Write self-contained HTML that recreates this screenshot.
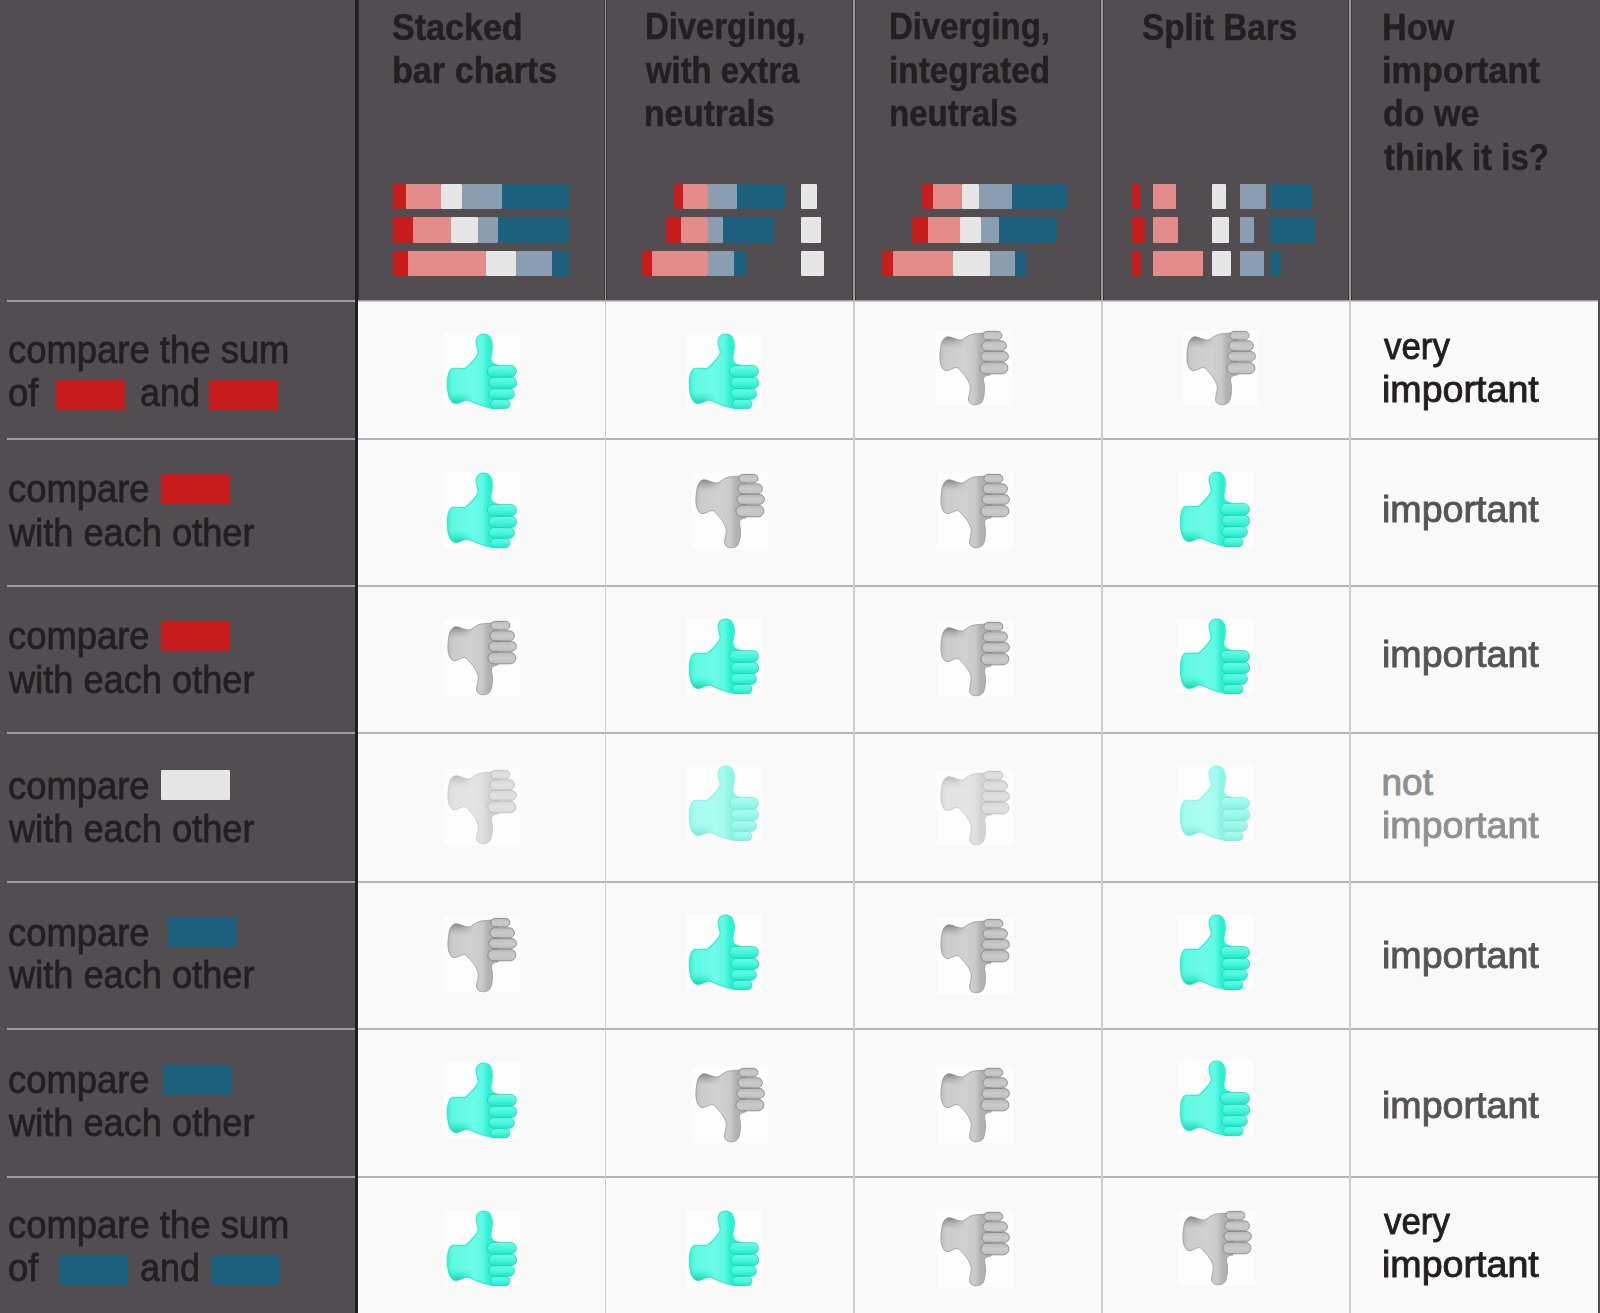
<!DOCTYPE html>
<html><head><meta charset="utf-8">
<style>
html,body{margin:0;padding:0;}
body{width:1600px;height:1313px;position:relative;overflow:hidden;background:#f9f9f9;font-family:"Liberation Sans",sans-serif;}
.a{position:absolute;}
.t{position:absolute;white-space:nowrap;transform-origin:0 0;line-height:1;}
.b{position:absolute;border-radius:1px;}
</style></head><body>
<svg width="0" height="0" style="position:absolute">
<defs>
<clipPath id="cp"><path d="M38.8 1.2 C42 1.2 44.5 2.2 46 4.2 C48 7 48.5 11 48.2 15 C48 19 46.8 22 46.7 25 C46.7 28 48.5 30.5 51.5 31.5 L54 32.5 L54 76 L51 75.8 C45 75 38 73 32 70.5 C28 68.8 25 67 22.8 67 C19 67.5 15.5 70.4 12.2 70.4 C9 70.4 6 67 4.6 62 C3.5 57 3.2 50 3.7 45.3 C4.2 40.5 6 36 9.1 35.4 C13 34.8 17.5 36 21.3 35.4 C24 33.5 27.5 30 30 27 C33 23.5 34.6 21.5 34.3 19 C34 16 32.2 12.5 32.1 9 C32 5 35 1.2 38.8 1.2 Z"/></clipPath>
<clipPath id="cpd"><path d="M38.8 1.2 C42 1.2 44.5 2.2 46 4.2 C47.8 7 48.6 13 48.5 18.5 C48.4 22 47.4 24.5 47.5 27 C47.7 29 50 30.5 52.2 30.8 L54 31 L54 74.6 L46.9 72.9 C42 72.5 38.5 72.2 35.9 71.7 C31 70.5 28.5 66.8 25.5 66 C21 65.3 15.5 69.5 11.9 69.3 C8.5 69 6 65.5 5.2 61.2 C4.2 56 3.6 50 4 46 C4.4 41.5 5.8 37 9.4 35.3 C13 34.8 16.5 38.2 19.9 38.5 C22.5 38.5 24.5 35 27 32.5 C29.5 30 32 26 33.3 22.7 C34.5 20 34.4 17.5 34 15 C33.4 12 32.4 8.5 32.6 6 C33 2.8 35.8 1.2 38.8 1.2 Z"/></clipPath>
<linearGradient id="mh" x1="0" y1="0" x2="30" y2="0" gradientUnits="userSpaceOnUse"><stop offset="0.6" stop-color="#fff"/><stop offset="1" stop-color="#000"/></linearGradient>
<mask id="mk"><rect x="0" y="0" width="76" height="76" fill="url(#mh)"/></mask>
<linearGradient id="gu" x1="3" y1="0" x2="54" y2="0" gradientUnits="userSpaceOnUse"><stop offset="0" stop-color="#34efd0"/><stop offset="0.1" stop-color="#60f9e2"/><stop offset="0.5" stop-color="#6cfce8"/><stop offset="0.7" stop-color="#5ef9e3"/><stop offset="0.8" stop-color="#2ff1d1"/></linearGradient>
<linearGradient id="cu" x1="0" y1="59" x2="0" y2="71" gradientUnits="userSpaceOnUse"><stop offset="0" stop-color="#1fe3c2" stop-opacity="0"/><stop offset="1" stop-color="#14d2b0" stop-opacity="1"/></linearGradient>
<linearGradient id="fu" x1="0" y1="0" x2="0" y2="1"><stop offset="0" stop-color="#6afbe6"/><stop offset="0.55" stop-color="#46f5db"/><stop offset="1" stop-color="#1de8c6"/></linearGradient>
<linearGradient id="gd" x1="3" y1="0" x2="54" y2="0" gradientUnits="userSpaceOnUse"><stop offset="0" stop-color="#bababa"/><stop offset="0.12" stop-color="#cccccc"/><stop offset="0.5" stop-color="#d1d1d1"/><stop offset="0.7" stop-color="#c8c8c8"/><stop offset="0.8" stop-color="#b2b2b2"/></linearGradient>
<linearGradient id="cd" x1="0" y1="58" x2="0" y2="70" gradientUnits="userSpaceOnUse"><stop offset="0" stop-color="#a0a0a0" stop-opacity="0"/><stop offset="1" stop-color="#808080" stop-opacity="1"/></linearGradient>
<linearGradient id="fd" x1="0" y1="0" x2="0" y2="1"><stop offset="0" stop-color="#c0c0c0"/><stop offset="0.5" stop-color="#cacaca"/><stop offset="1" stop-color="#bababa"/></linearGradient>


</defs></svg>

<div class="a" style="left:0;top:0;width:1600px;height:300px;background:#524d51"></div>
<div class="a" style="left:0;top:300px;width:1600px;height:2px;background:linear-gradient(#8e8f92,#dcdcdc)"></div>
<div class="a" style="left:0;top:0;width:355px;height:1313px;background:#524d51"></div>
<div class="a" style="left:1598px;top:0;width:2px;height:1313px;background:#524d51"></div>
<div class="a" style="left:7px;top:300px;width:348px;height:2px;background:#9c9ea1"></div>
<div class="a" style="left:7px;top:438px;width:348px;height:2px;background:#9c9ea1"></div>
<div class="a" style="left:7px;top:585px;width:348px;height:2px;background:#9c9ea1"></div>
<div class="a" style="left:7px;top:732px;width:348px;height:2px;background:#9c9ea1"></div>
<div class="a" style="left:7px;top:881px;width:348px;height:2px;background:#9c9ea1"></div>
<div class="a" style="left:7px;top:1028px;width:348px;height:2px;background:#9c9ea1"></div>
<div class="a" style="left:7px;top:1176px;width:348px;height:2px;background:#9c9ea1"></div>
<div class="a" style="left:358px;top:438px;width:1240px;height:2px;background:#b3b4b6"></div>
<div class="a" style="left:358px;top:585px;width:1240px;height:2px;background:#b3b4b6"></div>
<div class="a" style="left:358px;top:732px;width:1240px;height:2px;background:#b3b4b6"></div>
<div class="a" style="left:358px;top:881px;width:1240px;height:2px;background:#b3b4b6"></div>
<div class="a" style="left:358px;top:1028px;width:1240px;height:2px;background:#b3b4b6"></div>
<div class="a" style="left:358px;top:1176px;width:1240px;height:2px;background:#b3b4b6"></div>
<div class="a" style="left:604px;top:0;width:3px;height:300px;background:#3a3335"></div>
<div class="a" style="left:605px;top:0;width:1px;height:300px;background:#9a9ca0"></div>
<div class="a" style="left:605px;top:302px;width:1px;height:1011px;background:#cdcece"></div>
<div class="a" style="left:852px;top:0;width:4px;height:300px;background:#3a3335"></div>
<div class="a" style="left:853px;top:0;width:2px;height:300px;background:#9a9ca0"></div>
<div class="a" style="left:853px;top:302px;width:2px;height:1011px;background:#cdcece"></div>
<div class="a" style="left:1100px;top:0;width:4px;height:300px;background:#3a3335"></div>
<div class="a" style="left:1101px;top:0;width:2px;height:300px;background:#9a9ca0"></div>
<div class="a" style="left:1101px;top:302px;width:2px;height:1011px;background:#cdcece"></div>
<div class="a" style="left:1348px;top:0;width:4px;height:300px;background:#3a3335"></div>
<div class="a" style="left:1349px;top:0;width:2px;height:300px;background:#9a9ca0"></div>
<div class="a" style="left:1349px;top:302px;width:2px;height:1011px;background:#cdcece"></div>
<div class="a" style="left:355px;top:0;width:3px;height:1313px;background:#211e1f"></div>
<div class="a" style="left:358px;top:0;width:1px;height:300px;background:#2e2a2c"></div>
<div class="b" style="left:393.00px;top:183.80px;width:13.00px;height:25.20px;background:#c71e1d"></div>
<div class="b" style="left:406.00px;top:183.80px;width:35.00px;height:25.20px;background:#e48c8a"></div>
<div class="b" style="left:441.00px;top:183.80px;width:21.00px;height:25.20px;background:#e6e6e6"></div>
<div class="b" style="left:462.00px;top:183.80px;width:40.00px;height:25.20px;background:#8a9db1"></div>
<div class="b" style="left:502.00px;top:183.80px;width:67.00px;height:25.20px;background:#1d617e"></div>
<div class="b" style="left:393.00px;top:217.30px;width:20.00px;height:25.50px;background:#c71e1d"></div>
<div class="b" style="left:413.00px;top:217.30px;width:38.00px;height:25.50px;background:#e48c8a"></div>
<div class="b" style="left:451.00px;top:217.30px;width:27.00px;height:25.50px;background:#e6e6e6"></div>
<div class="b" style="left:478.00px;top:217.30px;width:20.00px;height:25.50px;background:#8a9db1"></div>
<div class="b" style="left:498.00px;top:217.30px;width:71.00px;height:25.50px;background:#1d617e"></div>
<div class="b" style="left:393.00px;top:250.50px;width:15.00px;height:25.50px;background:#c71e1d"></div>
<div class="b" style="left:408.00px;top:250.50px;width:78.00px;height:25.50px;background:#e48c8a"></div>
<div class="b" style="left:486.00px;top:250.50px;width:30.00px;height:25.50px;background:#e6e6e6"></div>
<div class="b" style="left:516.00px;top:250.50px;width:36.00px;height:25.50px;background:#8a9db1"></div>
<div class="b" style="left:552.00px;top:250.50px;width:17.00px;height:25.50px;background:#1d617e"></div>
<div class="b" style="left:674.00px;top:183.80px;width:9.00px;height:25.20px;background:#c71e1d"></div>
<div class="b" style="left:683.00px;top:183.80px;width:25.00px;height:25.20px;background:#e48c8a"></div>
<div class="b" style="left:708.00px;top:183.80px;width:29.00px;height:25.20px;background:#8a9db1"></div>
<div class="b" style="left:737.00px;top:183.80px;width:48.00px;height:25.20px;background:#1d617e"></div>
<div class="b" style="left:801.00px;top:183.80px;width:16.00px;height:25.20px;background:#e6e6e6"></div>
<div class="b" style="left:666.30px;top:217.30px;width:14.70px;height:25.50px;background:#c71e1d"></div>
<div class="b" style="left:681.00px;top:217.30px;width:27.00px;height:25.50px;background:#e48c8a"></div>
<div class="b" style="left:708.00px;top:217.30px;width:15.00px;height:25.50px;background:#8a9db1"></div>
<div class="b" style="left:723.00px;top:217.30px;width:50.80px;height:25.50px;background:#1d617e"></div>
<div class="b" style="left:801.00px;top:217.30px;width:20.00px;height:25.50px;background:#e6e6e6"></div>
<div class="b" style="left:642.00px;top:250.50px;width:10.00px;height:25.50px;background:#c71e1d"></div>
<div class="b" style="left:652.00px;top:250.50px;width:56.00px;height:25.50px;background:#e48c8a"></div>
<div class="b" style="left:708.00px;top:250.50px;width:26.40px;height:25.50px;background:#8a9db1"></div>
<div class="b" style="left:734.40px;top:250.50px;width:11.90px;height:25.50px;background:#1d617e"></div>
<div class="b" style="left:801.00px;top:250.50px;width:22.80px;height:25.50px;background:#e6e6e6"></div>
<div class="b" style="left:922.00px;top:183.80px;width:11.00px;height:25.20px;background:#c71e1d"></div>
<div class="b" style="left:933.00px;top:183.80px;width:29.00px;height:25.20px;background:#e48c8a"></div>
<div class="b" style="left:962.00px;top:183.80px;width:17.00px;height:25.20px;background:#e6e6e6"></div>
<div class="b" style="left:979.00px;top:183.80px;width:33.00px;height:25.20px;background:#8a9db1"></div>
<div class="b" style="left:1012.00px;top:183.80px;width:55.00px;height:25.20px;background:#1d617e"></div>
<div class="b" style="left:912.00px;top:217.30px;width:16.00px;height:25.50px;background:#c71e1d"></div>
<div class="b" style="left:928.00px;top:217.30px;width:32.00px;height:25.50px;background:#e48c8a"></div>
<div class="b" style="left:960.00px;top:217.30px;width:21.30px;height:25.50px;background:#e6e6e6"></div>
<div class="b" style="left:981.30px;top:217.30px;width:17.50px;height:25.50px;background:#8a9db1"></div>
<div class="b" style="left:998.80px;top:217.30px;width:58.20px;height:25.50px;background:#1d617e"></div>
<div class="b" style="left:882.00px;top:250.50px;width:11.00px;height:25.50px;background:#c71e1d"></div>
<div class="b" style="left:893.00px;top:250.50px;width:60.00px;height:25.50px;background:#e48c8a"></div>
<div class="b" style="left:953.00px;top:250.50px;width:37.00px;height:25.50px;background:#e6e6e6"></div>
<div class="b" style="left:990.00px;top:250.50px;width:25.00px;height:25.50px;background:#8a9db1"></div>
<div class="b" style="left:1015.00px;top:250.50px;width:11.30px;height:25.50px;background:#1d617e"></div>
<div class="b" style="left:1131.60px;top:183.80px;width:8.40px;height:25.20px;background:#c71e1d"></div>
<div class="b" style="left:1153.00px;top:183.80px;width:23.00px;height:25.20px;background:#e48c8a"></div>
<div class="b" style="left:1212.00px;top:183.80px;width:14.00px;height:25.20px;background:#e6e6e6"></div>
<div class="b" style="left:1240.00px;top:183.80px;width:26.00px;height:25.20px;background:#8a9db1"></div>
<div class="b" style="left:1270.00px;top:183.80px;width:42.00px;height:25.20px;background:#1d617e"></div>
<div class="b" style="left:1131.60px;top:217.30px;width:13.40px;height:25.50px;background:#c71e1d"></div>
<div class="b" style="left:1153.00px;top:217.30px;width:25.00px;height:25.50px;background:#e48c8a"></div>
<div class="b" style="left:1212.00px;top:217.30px;width:17.00px;height:25.50px;background:#e6e6e6"></div>
<div class="b" style="left:1240.00px;top:217.30px;width:14.00px;height:25.50px;background:#8a9db1"></div>
<div class="b" style="left:1270.00px;top:217.30px;width:44.60px;height:25.50px;background:#1d617e"></div>
<div class="b" style="left:1131.60px;top:250.50px;width:9.40px;height:25.50px;background:#c71e1d"></div>
<div class="b" style="left:1153.00px;top:250.50px;width:50.00px;height:25.50px;background:#e48c8a"></div>
<div class="b" style="left:1212.00px;top:250.50px;width:19.00px;height:25.50px;background:#e6e6e6"></div>
<div class="b" style="left:1240.00px;top:250.50px;width:23.80px;height:25.50px;background:#8a9db1"></div>
<div class="b" style="left:1270.00px;top:250.50px;width:11.00px;height:25.50px;background:#1d617e"></div>
<div class="b" style="left:56.30px;top:380.00px;width:68.40px;height:29.80px;background:#c71e1d"></div>
<div class="b" style="left:209.00px;top:380.00px;width:68.90px;height:29.80px;background:#c71e1d"></div>
<div class="b" style="left:161.00px;top:474.00px;width:69.30px;height:29.70px;background:#c71e1d"></div>
<div class="b" style="left:161.00px;top:621.00px;width:69.30px;height:30.00px;background:#c71e1d"></div>
<div class="b" style="left:161.00px;top:770.00px;width:69.30px;height:30.00px;background:#e6e6e6"></div>
<div class="b" style="left:167.80px;top:917.00px;width:69.40px;height:30.00px;background:#1d617e"></div>
<div class="b" style="left:163.00px;top:1065.00px;width:69.00px;height:30.00px;background:#1d617e"></div>
<div class="b" style="left:59.00px;top:1255.00px;width:69.00px;height:29.80px;background:#1d617e"></div>
<div class="b" style="left:211.00px;top:1255.00px;width:69.30px;height:29.80px;background:#1d617e"></div>
<div class="t" style="left:392.08px;top:9.10px;font-size:37px;font-weight:bold;color:#231f20;-webkit-text-stroke:0.5px #231f20;transform:scaleX(0.9209)">Stacked</div>
<div class="t" style="left:391.90px;top:51.60px;font-size:37px;font-weight:bold;color:#231f20;-webkit-text-stroke:0.5px #231f20;transform:scaleX(0.9233)">bar charts</div>
<div class="t" style="left:645.03px;top:8.40px;font-size:37px;font-weight:bold;color:#231f20;-webkit-text-stroke:0.5px #231f20;transform:scaleX(0.8864)">Diverging,</div>
<div class="t" style="left:645.70px;top:51.60px;font-size:37px;font-weight:bold;color:#231f20;-webkit-text-stroke:0.5px #231f20;transform:scaleX(0.8868)">with extra</div>
<div class="t" style="left:644.19px;top:95.00px;font-size:37px;font-weight:bold;color:#231f20;-webkit-text-stroke:0.5px #231f20;transform:scaleX(0.9071)">neutrals</div>
<div class="t" style="left:889.42px;top:8.40px;font-size:37px;font-weight:bold;color:#231f20;-webkit-text-stroke:0.5px #231f20;transform:scaleX(0.8898)">Diverging,</div>
<div class="t" style="left:889.20px;top:51.60px;font-size:37px;font-weight:bold;color:#231f20;-webkit-text-stroke:0.5px #231f20;transform:scaleX(0.9011)">integrated</div>
<div class="t" style="left:889.21px;top:95.00px;font-size:37px;font-weight:bold;color:#231f20;-webkit-text-stroke:0.5px #231f20;transform:scaleX(0.8936)">neutrals</div>
<div class="t" style="left:1141.50px;top:8.90px;font-size:37px;font-weight:bold;color:#231f20;-webkit-text-stroke:0.5px #231f20;transform:scaleX(0.8982)">Split Bars</div>
<div class="t" style="left:1381.85px;top:9.00px;font-size:37px;font-weight:bold;color:#231f20;-webkit-text-stroke:0.5px #231f20;transform:scaleX(0.9260)">How</div>
<div class="t" style="left:1381.85px;top:51.50px;font-size:37px;font-weight:bold;color:#231f20;-webkit-text-stroke:0.5px #231f20;transform:scaleX(0.9249)">important</div>
<div class="t" style="left:1382.78px;top:94.60px;font-size:37px;font-weight:bold;color:#231f20;-webkit-text-stroke:0.5px #231f20;transform:scaleX(0.9184)">do we</div>
<div class="t" style="left:1383.70px;top:138.50px;font-size:37px;font-weight:bold;color:#231f20;-webkit-text-stroke:0.5px #231f20;transform:scaleX(0.8913)">think it is?</div>
<div class="t" style="left:7.67px;top:329.50px;font-size:39px;font-weight:normal;color:#231f20;-webkit-text-stroke:0.8px #231f20;transform:scaleX(0.9342)">compare the sum</div>
<div class="t" style="left:7.67px;top:372.60px;font-size:39px;font-weight:normal;color:#231f20;-webkit-text-stroke:0.8px #231f20;transform:scaleX(0.9320)">of</div>
<div class="t" style="left:139.68px;top:372.60px;font-size:39px;font-weight:normal;color:#231f20;-webkit-text-stroke:0.8px #231f20;transform:scaleX(0.9226)">and</div>
<div class="t" style="left:8.07px;top:469.20px;font-size:39px;font-weight:normal;color:#231f20;-webkit-text-stroke:0.8px #231f20;transform:scaleX(0.9333)">compare</div>
<div class="t" style="left:9.00px;top:513.25px;font-size:39px;font-weight:normal;color:#231f20;-webkit-text-stroke:0.8px #231f20;transform:scaleX(0.9283)">with each other</div>
<div class="t" style="left:8.07px;top:616.40px;font-size:39px;font-weight:normal;color:#231f20;-webkit-text-stroke:0.8px #231f20;transform:scaleX(0.9333)">compare</div>
<div class="t" style="left:9.00px;top:659.60px;font-size:39px;font-weight:normal;color:#231f20;-webkit-text-stroke:0.8px #231f20;transform:scaleX(0.9283)">with each other</div>
<div class="t" style="left:8.07px;top:766.00px;font-size:39px;font-weight:normal;color:#231f20;-webkit-text-stroke:0.8px #231f20;transform:scaleX(0.9333)">compare</div>
<div class="t" style="left:9.00px;top:808.60px;font-size:39px;font-weight:normal;color:#231f20;-webkit-text-stroke:0.8px #231f20;transform:scaleX(0.9283)">with each other</div>
<div class="t" style="left:8.07px;top:912.60px;font-size:39px;font-weight:normal;color:#231f20;-webkit-text-stroke:0.8px #231f20;transform:scaleX(0.9333)">compare</div>
<div class="t" style="left:9.00px;top:955.10px;font-size:39px;font-weight:normal;color:#231f20;-webkit-text-stroke:0.8px #231f20;transform:scaleX(0.9283)">with each other</div>
<div class="t" style="left:8.07px;top:1060.00px;font-size:39px;font-weight:normal;color:#231f20;-webkit-text-stroke:0.8px #231f20;transform:scaleX(0.9333)">compare</div>
<div class="t" style="left:9.00px;top:1103.25px;font-size:39px;font-weight:normal;color:#231f20;-webkit-text-stroke:0.8px #231f20;transform:scaleX(0.9283)">with each other</div>
<div class="t" style="left:7.67px;top:1204.50px;font-size:39px;font-weight:normal;color:#231f20;-webkit-text-stroke:0.8px #231f20;transform:scaleX(0.9342)">compare the sum</div>
<div class="t" style="left:7.67px;top:1247.60px;font-size:39px;font-weight:normal;color:#231f20;-webkit-text-stroke:0.8px #231f20;transform:scaleX(0.9320)">of</div>
<div class="t" style="left:139.68px;top:1247.60px;font-size:39px;font-weight:normal;color:#231f20;-webkit-text-stroke:0.8px #231f20;transform:scaleX(0.9226)">and</div>
<div class="t" style="left:1383.50px;top:327.60px;font-size:37px;font-weight:normal;color:#221e20;-webkit-text-stroke:0.9px #221e20;transform:scaleX(0.9429)">very</div>
<div class="t" style="left:1382.22px;top:371.00px;font-size:37px;font-weight:normal;color:#221e20;-webkit-text-stroke:0.9px #221e20;transform:scaleX(1.0163)">important</div>
<div class="t" style="left:1382.22px;top:491.20px;font-size:37px;font-weight:normal;color:#555353;-webkit-text-stroke:0.9px #555353;transform:scaleX(1.0163)">important</div>
<div class="t" style="left:1382.22px;top:635.60px;font-size:37px;font-weight:normal;color:#555353;-webkit-text-stroke:0.9px #555353;transform:scaleX(1.0163)">important</div>
<div class="t" style="left:1381.50px;top:764.00px;font-size:37px;font-weight:normal;color:#8f8f8f;-webkit-text-stroke:0.9px #8f8f8f;transform:scaleX(1.0000)">not</div>
<div class="t" style="left:1382.22px;top:807.40px;font-size:37px;font-weight:normal;color:#8f8f8f;-webkit-text-stroke:0.9px #8f8f8f;transform:scaleX(1.0163)">important</div>
<div class="t" style="left:1382.22px;top:936.50px;font-size:37px;font-weight:normal;color:#555353;-webkit-text-stroke:0.9px #555353;transform:scaleX(1.0163)">important</div>
<div class="t" style="left:1382.22px;top:1087.00px;font-size:37px;font-weight:normal;color:#555353;-webkit-text-stroke:0.9px #555353;transform:scaleX(1.0163)">important</div>
<div class="t" style="left:1383.50px;top:1202.60px;font-size:37px;font-weight:normal;color:#221e20;-webkit-text-stroke:0.9px #221e20;transform:scaleX(0.9429)">very</div>
<div class="t" style="left:1382.22px;top:1246.00px;font-size:37px;font-weight:normal;color:#221e20;-webkit-text-stroke:0.9px #221e20;transform:scaleX(1.0163)">important</div>
<div class="a" style="left:444.0px;top:333.0px;width:76px;height:76px;background:#fdfdfd"></div>
<svg class="a" style="left:444.0px;top:333.0px;" width="76" height="76" viewBox="0 0 76 76"><g>
<path d="M38.8 1.2 C42 1.2 44.5 2.2 46 4.2 C48 7 48.5 11 48.2 15 C48 19 46.8 22 46.7 25 C46.7 28 48.5 30.5 51.5 31.5 L54 32.5 L54 76 L51 75.8 C45 75 38 73 32 70.5 C28 68.8 25 67 22.8 67 C19 67.5 15.5 70.4 12.2 70.4 C9 70.4 6 67 4.6 62 C3.5 57 3.2 50 3.7 45.3 C4.2 40.5 6 36 9.1 35.4 C13 34.8 17.5 36 21.3 35.4 C24 33.5 27.5 30 30 27 C33 23.5 34.6 21.5 34.3 19 C34 16 32.2 12.5 32.1 9 C32 5 35 1.2 38.8 1.2 Z" fill="url(#gu)" stroke="#2cefcf" stroke-width="1.2"/>
<rect x="0" y="55" width="34" height="21" fill="url(#cu)" clip-path="url(#cp)" mask="url(#mk)"/>
<g fill="url(#fu)" stroke="#17cfae" stroke-width="0.7">
<rect x="46.5" y="66.3" width="19.4" height="9.5" rx="4.75"/>
<rect x="44.9" y="55.6" width="25.5" height="10.7" rx="5.3"/>
<rect x="44.9" y="44.2" width="27.8" height="11.4" rx="5.7"/>
<rect x="43.4" y="32.4" width="29" height="11.8" rx="5.9"/>
</g></g></svg>
<div class="a" style="left:686.0px;top:333.0px;width:76px;height:76px;background:#fdfdfd"></div>
<svg class="a" style="left:686.0px;top:333.0px;" width="76" height="76" viewBox="0 0 76 76"><g>
<path d="M38.8 1.2 C42 1.2 44.5 2.2 46 4.2 C48 7 48.5 11 48.2 15 C48 19 46.8 22 46.7 25 C46.7 28 48.5 30.5 51.5 31.5 L54 32.5 L54 76 L51 75.8 C45 75 38 73 32 70.5 C28 68.8 25 67 22.8 67 C19 67.5 15.5 70.4 12.2 70.4 C9 70.4 6 67 4.6 62 C3.5 57 3.2 50 3.7 45.3 C4.2 40.5 6 36 9.1 35.4 C13 34.8 17.5 36 21.3 35.4 C24 33.5 27.5 30 30 27 C33 23.5 34.6 21.5 34.3 19 C34 16 32.2 12.5 32.1 9 C32 5 35 1.2 38.8 1.2 Z" fill="url(#gu)" stroke="#2cefcf" stroke-width="1.2"/>
<rect x="0" y="55" width="34" height="21" fill="url(#cu)" clip-path="url(#cp)" mask="url(#mk)"/>
<g fill="url(#fu)" stroke="#17cfae" stroke-width="0.7">
<rect x="46.5" y="66.3" width="19.4" height="9.5" rx="4.75"/>
<rect x="44.9" y="55.6" width="25.5" height="10.7" rx="5.3"/>
<rect x="44.9" y="44.2" width="27.8" height="11.4" rx="5.7"/>
<rect x="43.4" y="32.4" width="29" height="11.8" rx="5.9"/>
</g></g></svg>
<div class="a" style="left:936.4px;top:330.0px;width:76px;height:76px;background:#fdfdfd"></div>
<svg class="a" style="left:936.4px;top:330.0px;" width="76" height="76" viewBox="0 0 76 76"><g transform="translate(0 76) scale(1 -1)">
<path d="M38.8 1.2 C42 1.2 44.5 2.2 46 4.2 C47.8 7 48.6 13 48.5 18.5 C48.4 22 47.4 24.5 47.5 27 C47.7 29 50 30.5 52.2 30.8 L54 31 L54 74.6 L46.9 72.9 C42 72.5 38.5 72.2 35.9 71.7 C31 70.5 28.5 66.8 25.5 66 C21 65.3 15.5 69.5 11.9 69.3 C8.5 69 6 65.5 5.2 61.2 C4.2 56 3.6 50 4 46 C4.4 41.5 5.8 37 9.4 35.3 C13 34.8 16.5 38.2 19.9 38.5 C22.5 38.5 24.5 35 27 32.5 C29.5 30 32 26 33.3 22.7 C34.5 20 34.4 17.5 34 15 C33.4 12 32.4 8.5 32.6 6 C33 2.8 35.8 1.2 38.8 1.2 Z" fill="url(#gd)" stroke="#989898" stroke-width="0.8"/>
<rect x="0" y="55" width="34" height="21" fill="url(#cd)" clip-path="url(#cpd)" mask="url(#mk)"/>
<g fill="url(#fd)" stroke="#808080" stroke-width="0.8">
<rect x="46.9" y="66.2" width="19" height="8.5" rx="4.25"/>
<rect x="45.9" y="55.2" width="24.5" height="10" rx="5"/>
<rect x="44.9" y="44.7" width="27.5" height="9.8" rx="4.9"/>
<rect x="43.9" y="32.2" width="28" height="11.5" rx="5.75"/>
</g></g></svg>
<div class="a" style="left:1183.3px;top:330.0px;width:76px;height:76px;background:#fdfdfd"></div>
<svg class="a" style="left:1183.3px;top:330.0px;" width="76" height="76" viewBox="0 0 76 76"><g transform="translate(0 76) scale(1 -1)">
<path d="M38.8 1.2 C42 1.2 44.5 2.2 46 4.2 C47.8 7 48.6 13 48.5 18.5 C48.4 22 47.4 24.5 47.5 27 C47.7 29 50 30.5 52.2 30.8 L54 31 L54 74.6 L46.9 72.9 C42 72.5 38.5 72.2 35.9 71.7 C31 70.5 28.5 66.8 25.5 66 C21 65.3 15.5 69.5 11.9 69.3 C8.5 69 6 65.5 5.2 61.2 C4.2 56 3.6 50 4 46 C4.4 41.5 5.8 37 9.4 35.3 C13 34.8 16.5 38.2 19.9 38.5 C22.5 38.5 24.5 35 27 32.5 C29.5 30 32 26 33.3 22.7 C34.5 20 34.4 17.5 34 15 C33.4 12 32.4 8.5 32.6 6 C33 2.8 35.8 1.2 38.8 1.2 Z" fill="url(#gd)" stroke="#989898" stroke-width="0.8"/>
<rect x="0" y="55" width="34" height="21" fill="url(#cd)" clip-path="url(#cpd)" mask="url(#mk)"/>
<g fill="url(#fd)" stroke="#808080" stroke-width="0.8">
<rect x="46.9" y="66.2" width="19" height="8.5" rx="4.25"/>
<rect x="45.9" y="55.2" width="24.5" height="10" rx="5"/>
<rect x="44.9" y="44.7" width="27.5" height="9.8" rx="4.9"/>
<rect x="43.9" y="32.2" width="28" height="11.5" rx="5.75"/>
</g></g></svg>
<div class="a" style="left:443.8px;top:471.6px;width:76px;height:76px;background:#fdfdfd"></div>
<svg class="a" style="left:443.8px;top:471.6px;" width="76" height="76" viewBox="0 0 76 76"><g>
<path d="M38.8 1.2 C42 1.2 44.5 2.2 46 4.2 C48 7 48.5 11 48.2 15 C48 19 46.8 22 46.7 25 C46.7 28 48.5 30.5 51.5 31.5 L54 32.5 L54 76 L51 75.8 C45 75 38 73 32 70.5 C28 68.8 25 67 22.8 67 C19 67.5 15.5 70.4 12.2 70.4 C9 70.4 6 67 4.6 62 C3.5 57 3.2 50 3.7 45.3 C4.2 40.5 6 36 9.1 35.4 C13 34.8 17.5 36 21.3 35.4 C24 33.5 27.5 30 30 27 C33 23.5 34.6 21.5 34.3 19 C34 16 32.2 12.5 32.1 9 C32 5 35 1.2 38.8 1.2 Z" fill="url(#gu)" stroke="#2cefcf" stroke-width="1.2"/>
<rect x="0" y="55" width="34" height="21" fill="url(#cu)" clip-path="url(#cp)" mask="url(#mk)"/>
<g fill="url(#fu)" stroke="#17cfae" stroke-width="0.7">
<rect x="46.5" y="66.3" width="19.4" height="9.5" rx="4.75"/>
<rect x="44.9" y="55.6" width="25.5" height="10.7" rx="5.3"/>
<rect x="44.9" y="44.2" width="27.8" height="11.4" rx="5.7"/>
<rect x="43.4" y="32.4" width="29" height="11.8" rx="5.9"/>
</g></g></svg>
<div class="a" style="left:692.0px;top:472.8px;width:76px;height:76px;background:#fdfdfd"></div>
<svg class="a" style="left:692.0px;top:472.8px;" width="76" height="76" viewBox="0 0 76 76"><g transform="translate(0 76) scale(1 -1)">
<path d="M38.8 1.2 C42 1.2 44.5 2.2 46 4.2 C47.8 7 48.6 13 48.5 18.5 C48.4 22 47.4 24.5 47.5 27 C47.7 29 50 30.5 52.2 30.8 L54 31 L54 74.6 L46.9 72.9 C42 72.5 38.5 72.2 35.9 71.7 C31 70.5 28.5 66.8 25.5 66 C21 65.3 15.5 69.5 11.9 69.3 C8.5 69 6 65.5 5.2 61.2 C4.2 56 3.6 50 4 46 C4.4 41.5 5.8 37 9.4 35.3 C13 34.8 16.5 38.2 19.9 38.5 C22.5 38.5 24.5 35 27 32.5 C29.5 30 32 26 33.3 22.7 C34.5 20 34.4 17.5 34 15 C33.4 12 32.4 8.5 32.6 6 C33 2.8 35.8 1.2 38.8 1.2 Z" fill="url(#gd)" stroke="#989898" stroke-width="0.8"/>
<rect x="0" y="55" width="34" height="21" fill="url(#cd)" clip-path="url(#cpd)" mask="url(#mk)"/>
<g fill="url(#fd)" stroke="#808080" stroke-width="0.8">
<rect x="46.9" y="66.2" width="19" height="8.5" rx="4.25"/>
<rect x="45.9" y="55.2" width="24.5" height="10" rx="5"/>
<rect x="44.9" y="44.7" width="27.5" height="9.8" rx="4.9"/>
<rect x="43.9" y="32.2" width="28" height="11.5" rx="5.75"/>
</g></g></svg>
<div class="a" style="left:936.6px;top:472.8px;width:76px;height:76px;background:#fdfdfd"></div>
<svg class="a" style="left:936.6px;top:472.8px;" width="76" height="76" viewBox="0 0 76 76"><g transform="translate(0 76) scale(1 -1)">
<path d="M38.8 1.2 C42 1.2 44.5 2.2 46 4.2 C47.8 7 48.6 13 48.5 18.5 C48.4 22 47.4 24.5 47.5 27 C47.7 29 50 30.5 52.2 30.8 L54 31 L54 74.6 L46.9 72.9 C42 72.5 38.5 72.2 35.9 71.7 C31 70.5 28.5 66.8 25.5 66 C21 65.3 15.5 69.5 11.9 69.3 C8.5 69 6 65.5 5.2 61.2 C4.2 56 3.6 50 4 46 C4.4 41.5 5.8 37 9.4 35.3 C13 34.8 16.5 38.2 19.9 38.5 C22.5 38.5 24.5 35 27 32.5 C29.5 30 32 26 33.3 22.7 C34.5 20 34.4 17.5 34 15 C33.4 12 32.4 8.5 32.6 6 C33 2.8 35.8 1.2 38.8 1.2 Z" fill="url(#gd)" stroke="#989898" stroke-width="0.8"/>
<rect x="0" y="55" width="34" height="21" fill="url(#cd)" clip-path="url(#cpd)" mask="url(#mk)"/>
<g fill="url(#fd)" stroke="#808080" stroke-width="0.8">
<rect x="46.9" y="66.2" width="19" height="8.5" rx="4.25"/>
<rect x="45.9" y="55.2" width="24.5" height="10" rx="5"/>
<rect x="44.9" y="44.7" width="27.5" height="9.8" rx="4.9"/>
<rect x="43.9" y="32.2" width="28" height="11.5" rx="5.75"/>
</g></g></svg>
<div class="a" style="left:1177.2px;top:471.0px;width:76px;height:76px;background:#fdfdfd"></div>
<svg class="a" style="left:1177.2px;top:471.0px;" width="76" height="76" viewBox="0 0 76 76"><g>
<path d="M38.8 1.2 C42 1.2 44.5 2.2 46 4.2 C48 7 48.5 11 48.2 15 C48 19 46.8 22 46.7 25 C46.7 28 48.5 30.5 51.5 31.5 L54 32.5 L54 76 L51 75.8 C45 75 38 73 32 70.5 C28 68.8 25 67 22.8 67 C19 67.5 15.5 70.4 12.2 70.4 C9 70.4 6 67 4.6 62 C3.5 57 3.2 50 3.7 45.3 C4.2 40.5 6 36 9.1 35.4 C13 34.8 17.5 36 21.3 35.4 C24 33.5 27.5 30 30 27 C33 23.5 34.6 21.5 34.3 19 C34 16 32.2 12.5 32.1 9 C32 5 35 1.2 38.8 1.2 Z" fill="url(#gu)" stroke="#2cefcf" stroke-width="1.2"/>
<rect x="0" y="55" width="34" height="21" fill="url(#cu)" clip-path="url(#cp)" mask="url(#mk)"/>
<g fill="url(#fu)" stroke="#17cfae" stroke-width="0.7">
<rect x="46.5" y="66.3" width="19.4" height="9.5" rx="4.75"/>
<rect x="44.9" y="55.6" width="25.5" height="10.7" rx="5.3"/>
<rect x="44.9" y="44.2" width="27.8" height="11.4" rx="5.7"/>
<rect x="43.4" y="32.4" width="29" height="11.8" rx="5.9"/>
</g></g></svg>
<div class="a" style="left:443.8px;top:620.2px;width:76px;height:76px;background:#fdfdfd"></div>
<svg class="a" style="left:443.8px;top:620.2px;" width="76" height="76" viewBox="0 0 76 76"><g transform="translate(0 76) scale(1 -1)">
<path d="M38.8 1.2 C42 1.2 44.5 2.2 46 4.2 C47.8 7 48.6 13 48.5 18.5 C48.4 22 47.4 24.5 47.5 27 C47.7 29 50 30.5 52.2 30.8 L54 31 L54 74.6 L46.9 72.9 C42 72.5 38.5 72.2 35.9 71.7 C31 70.5 28.5 66.8 25.5 66 C21 65.3 15.5 69.5 11.9 69.3 C8.5 69 6 65.5 5.2 61.2 C4.2 56 3.6 50 4 46 C4.4 41.5 5.8 37 9.4 35.3 C13 34.8 16.5 38.2 19.9 38.5 C22.5 38.5 24.5 35 27 32.5 C29.5 30 32 26 33.3 22.7 C34.5 20 34.4 17.5 34 15 C33.4 12 32.4 8.5 32.6 6 C33 2.8 35.8 1.2 38.8 1.2 Z" fill="url(#gd)" stroke="#989898" stroke-width="0.8"/>
<rect x="0" y="55" width="34" height="21" fill="url(#cd)" clip-path="url(#cpd)" mask="url(#mk)"/>
<g fill="url(#fd)" stroke="#808080" stroke-width="0.8">
<rect x="46.9" y="66.2" width="19" height="8.5" rx="4.25"/>
<rect x="45.9" y="55.2" width="24.5" height="10" rx="5"/>
<rect x="44.9" y="44.7" width="27.5" height="9.8" rx="4.9"/>
<rect x="43.9" y="32.2" width="28" height="11.5" rx="5.75"/>
</g></g></svg>
<div class="a" style="left:685.6px;top:617.8px;width:76px;height:76px;background:#fdfdfd"></div>
<svg class="a" style="left:685.6px;top:617.8px;" width="76" height="76" viewBox="0 0 76 76"><g>
<path d="M38.8 1.2 C42 1.2 44.5 2.2 46 4.2 C48 7 48.5 11 48.2 15 C48 19 46.8 22 46.7 25 C46.7 28 48.5 30.5 51.5 31.5 L54 32.5 L54 76 L51 75.8 C45 75 38 73 32 70.5 C28 68.8 25 67 22.8 67 C19 67.5 15.5 70.4 12.2 70.4 C9 70.4 6 67 4.6 62 C3.5 57 3.2 50 3.7 45.3 C4.2 40.5 6 36 9.1 35.4 C13 34.8 17.5 36 21.3 35.4 C24 33.5 27.5 30 30 27 C33 23.5 34.6 21.5 34.3 19 C34 16 32.2 12.5 32.1 9 C32 5 35 1.2 38.8 1.2 Z" fill="url(#gu)" stroke="#2cefcf" stroke-width="1.2"/>
<rect x="0" y="55" width="34" height="21" fill="url(#cu)" clip-path="url(#cp)" mask="url(#mk)"/>
<g fill="url(#fu)" stroke="#17cfae" stroke-width="0.7">
<rect x="46.5" y="66.3" width="19.4" height="9.5" rx="4.75"/>
<rect x="44.9" y="55.6" width="25.5" height="10.7" rx="5.3"/>
<rect x="44.9" y="44.2" width="27.8" height="11.4" rx="5.7"/>
<rect x="43.4" y="32.4" width="29" height="11.8" rx="5.9"/>
</g></g></svg>
<div class="a" style="left:936.6px;top:621.4px;width:76px;height:76px;background:#fdfdfd"></div>
<svg class="a" style="left:936.6px;top:621.4px;" width="76" height="76" viewBox="0 0 76 76"><g transform="translate(0 76) scale(1 -1)">
<path d="M38.8 1.2 C42 1.2 44.5 2.2 46 4.2 C47.8 7 48.6 13 48.5 18.5 C48.4 22 47.4 24.5 47.5 27 C47.7 29 50 30.5 52.2 30.8 L54 31 L54 74.6 L46.9 72.9 C42 72.5 38.5 72.2 35.9 71.7 C31 70.5 28.5 66.8 25.5 66 C21 65.3 15.5 69.5 11.9 69.3 C8.5 69 6 65.5 5.2 61.2 C4.2 56 3.6 50 4 46 C4.4 41.5 5.8 37 9.4 35.3 C13 34.8 16.5 38.2 19.9 38.5 C22.5 38.5 24.5 35 27 32.5 C29.5 30 32 26 33.3 22.7 C34.5 20 34.4 17.5 34 15 C33.4 12 32.4 8.5 32.6 6 C33 2.8 35.8 1.2 38.8 1.2 Z" fill="url(#gd)" stroke="#989898" stroke-width="0.8"/>
<rect x="0" y="55" width="34" height="21" fill="url(#cd)" clip-path="url(#cpd)" mask="url(#mk)"/>
<g fill="url(#fd)" stroke="#808080" stroke-width="0.8">
<rect x="46.9" y="66.2" width="19" height="8.5" rx="4.25"/>
<rect x="45.9" y="55.2" width="24.5" height="10" rx="5"/>
<rect x="44.9" y="44.7" width="27.5" height="9.8" rx="4.9"/>
<rect x="43.9" y="32.2" width="28" height="11.5" rx="5.75"/>
</g></g></svg>
<div class="a" style="left:1177.2px;top:617.8px;width:76px;height:76px;background:#fdfdfd"></div>
<svg class="a" style="left:1177.2px;top:617.8px;" width="76" height="76" viewBox="0 0 76 76"><g>
<path d="M38.8 1.2 C42 1.2 44.5 2.2 46 4.2 C48 7 48.5 11 48.2 15 C48 19 46.8 22 46.7 25 C46.7 28 48.5 30.5 51.5 31.5 L54 32.5 L54 76 L51 75.8 C45 75 38 73 32 70.5 C28 68.8 25 67 22.8 67 C19 67.5 15.5 70.4 12.2 70.4 C9 70.4 6 67 4.6 62 C3.5 57 3.2 50 3.7 45.3 C4.2 40.5 6 36 9.1 35.4 C13 34.8 17.5 36 21.3 35.4 C24 33.5 27.5 30 30 27 C33 23.5 34.6 21.5 34.3 19 C34 16 32.2 12.5 32.1 9 C32 5 35 1.2 38.8 1.2 Z" fill="url(#gu)" stroke="#2cefcf" stroke-width="1.2"/>
<rect x="0" y="55" width="34" height="21" fill="url(#cu)" clip-path="url(#cp)" mask="url(#mk)"/>
<g fill="url(#fu)" stroke="#17cfae" stroke-width="0.7">
<rect x="46.5" y="66.3" width="19.4" height="9.5" rx="4.75"/>
<rect x="44.9" y="55.6" width="25.5" height="10.7" rx="5.3"/>
<rect x="44.9" y="44.2" width="27.8" height="11.4" rx="5.7"/>
<rect x="43.4" y="32.4" width="29" height="11.8" rx="5.9"/>
</g></g></svg>
<div class="a" style="left:444.0px;top:768.5px;width:76px;height:76px;background:#fdfdfd"></div>
<svg class="a" style="left:444.0px;top:768.5px;opacity:0.55;" width="76" height="76" viewBox="0 0 76 76"><g transform="translate(0 76) scale(1 -1)">
<path d="M38.8 1.2 C42 1.2 44.5 2.2 46 4.2 C47.8 7 48.6 13 48.5 18.5 C48.4 22 47.4 24.5 47.5 27 C47.7 29 50 30.5 52.2 30.8 L54 31 L54 74.6 L46.9 72.9 C42 72.5 38.5 72.2 35.9 71.7 C31 70.5 28.5 66.8 25.5 66 C21 65.3 15.5 69.5 11.9 69.3 C8.5 69 6 65.5 5.2 61.2 C4.2 56 3.6 50 4 46 C4.4 41.5 5.8 37 9.4 35.3 C13 34.8 16.5 38.2 19.9 38.5 C22.5 38.5 24.5 35 27 32.5 C29.5 30 32 26 33.3 22.7 C34.5 20 34.4 17.5 34 15 C33.4 12 32.4 8.5 32.6 6 C33 2.8 35.8 1.2 38.8 1.2 Z" fill="url(#gd)" stroke="#989898" stroke-width="0.8"/>
<rect x="0" y="55" width="34" height="21" fill="url(#cd)" clip-path="url(#cpd)" mask="url(#mk)"/>
<g fill="url(#fd)" stroke="#808080" stroke-width="0.8">
<rect x="46.9" y="66.2" width="19" height="8.5" rx="4.25"/>
<rect x="45.9" y="55.2" width="24.5" height="10" rx="5"/>
<rect x="44.9" y="44.7" width="27.5" height="9.8" rx="4.9"/>
<rect x="43.9" y="32.2" width="28" height="11.5" rx="5.75"/>
</g></g></svg>
<div class="a" style="left:685.6px;top:764.7px;width:76px;height:76px;background:#fdfdfd"></div>
<svg class="a" style="left:685.6px;top:764.7px;opacity:0.55;" width="76" height="76" viewBox="0 0 76 76"><g>
<path d="M38.8 1.2 C42 1.2 44.5 2.2 46 4.2 C48 7 48.5 11 48.2 15 C48 19 46.8 22 46.7 25 C46.7 28 48.5 30.5 51.5 31.5 L54 32.5 L54 76 L51 75.8 C45 75 38 73 32 70.5 C28 68.8 25 67 22.8 67 C19 67.5 15.5 70.4 12.2 70.4 C9 70.4 6 67 4.6 62 C3.5 57 3.2 50 3.7 45.3 C4.2 40.5 6 36 9.1 35.4 C13 34.8 17.5 36 21.3 35.4 C24 33.5 27.5 30 30 27 C33 23.5 34.6 21.5 34.3 19 C34 16 32.2 12.5 32.1 9 C32 5 35 1.2 38.8 1.2 Z" fill="url(#gu)" stroke="#2cefcf" stroke-width="1.2"/>
<rect x="0" y="55" width="34" height="21" fill="url(#cu)" clip-path="url(#cp)" mask="url(#mk)"/>
<g fill="url(#fu)" stroke="#17cfae" stroke-width="0.7">
<rect x="46.5" y="66.3" width="19.4" height="9.5" rx="4.75"/>
<rect x="44.9" y="55.6" width="25.5" height="10.7" rx="5.3"/>
<rect x="44.9" y="44.2" width="27.8" height="11.4" rx="5.7"/>
<rect x="43.4" y="32.4" width="29" height="11.8" rx="5.9"/>
</g></g></svg>
<div class="a" style="left:936.6px;top:770.0px;width:76px;height:76px;background:#fdfdfd"></div>
<svg class="a" style="left:936.6px;top:770.0px;opacity:0.55;" width="76" height="76" viewBox="0 0 76 76"><g transform="translate(0 76) scale(1 -1)">
<path d="M38.8 1.2 C42 1.2 44.5 2.2 46 4.2 C47.8 7 48.6 13 48.5 18.5 C48.4 22 47.4 24.5 47.5 27 C47.7 29 50 30.5 52.2 30.8 L54 31 L54 74.6 L46.9 72.9 C42 72.5 38.5 72.2 35.9 71.7 C31 70.5 28.5 66.8 25.5 66 C21 65.3 15.5 69.5 11.9 69.3 C8.5 69 6 65.5 5.2 61.2 C4.2 56 3.6 50 4 46 C4.4 41.5 5.8 37 9.4 35.3 C13 34.8 16.5 38.2 19.9 38.5 C22.5 38.5 24.5 35 27 32.5 C29.5 30 32 26 33.3 22.7 C34.5 20 34.4 17.5 34 15 C33.4 12 32.4 8.5 32.6 6 C33 2.8 35.8 1.2 38.8 1.2 Z" fill="url(#gd)" stroke="#989898" stroke-width="0.8"/>
<rect x="0" y="55" width="34" height="21" fill="url(#cd)" clip-path="url(#cpd)" mask="url(#mk)"/>
<g fill="url(#fd)" stroke="#808080" stroke-width="0.8">
<rect x="46.9" y="66.2" width="19" height="8.5" rx="4.25"/>
<rect x="45.9" y="55.2" width="24.5" height="10" rx="5"/>
<rect x="44.9" y="44.7" width="27.5" height="9.8" rx="4.9"/>
<rect x="43.9" y="32.2" width="28" height="11.5" rx="5.75"/>
</g></g></svg>
<div class="a" style="left:1177.2px;top:764.7px;width:76px;height:76px;background:#fdfdfd"></div>
<svg class="a" style="left:1177.2px;top:764.7px;opacity:0.55;" width="76" height="76" viewBox="0 0 76 76"><g>
<path d="M38.8 1.2 C42 1.2 44.5 2.2 46 4.2 C48 7 48.5 11 48.2 15 C48 19 46.8 22 46.7 25 C46.7 28 48.5 30.5 51.5 31.5 L54 32.5 L54 76 L51 75.8 C45 75 38 73 32 70.5 C28 68.8 25 67 22.8 67 C19 67.5 15.5 70.4 12.2 70.4 C9 70.4 6 67 4.6 62 C3.5 57 3.2 50 3.7 45.3 C4.2 40.5 6 36 9.1 35.4 C13 34.8 17.5 36 21.3 35.4 C24 33.5 27.5 30 30 27 C33 23.5 34.6 21.5 34.3 19 C34 16 32.2 12.5 32.1 9 C32 5 35 1.2 38.8 1.2 Z" fill="url(#gu)" stroke="#2cefcf" stroke-width="1.2"/>
<rect x="0" y="55" width="34" height="21" fill="url(#cu)" clip-path="url(#cp)" mask="url(#mk)"/>
<g fill="url(#fu)" stroke="#17cfae" stroke-width="0.7">
<rect x="46.5" y="66.3" width="19.4" height="9.5" rx="4.75"/>
<rect x="44.9" y="55.6" width="25.5" height="10.7" rx="5.3"/>
<rect x="44.9" y="44.2" width="27.8" height="11.4" rx="5.7"/>
<rect x="43.4" y="32.4" width="29" height="11.8" rx="5.9"/>
</g></g></svg>
<div class="a" style="left:444.0px;top:917.1px;width:76px;height:76px;background:#fdfdfd"></div>
<svg class="a" style="left:444.0px;top:917.1px;" width="76" height="76" viewBox="0 0 76 76"><g transform="translate(0 76) scale(1 -1)">
<path d="M38.8 1.2 C42 1.2 44.5 2.2 46 4.2 C47.8 7 48.6 13 48.5 18.5 C48.4 22 47.4 24.5 47.5 27 C47.7 29 50 30.5 52.2 30.8 L54 31 L54 74.6 L46.9 72.9 C42 72.5 38.5 72.2 35.9 71.7 C31 70.5 28.5 66.8 25.5 66 C21 65.3 15.5 69.5 11.9 69.3 C8.5 69 6 65.5 5.2 61.2 C4.2 56 3.6 50 4 46 C4.4 41.5 5.8 37 9.4 35.3 C13 34.8 16.5 38.2 19.9 38.5 C22.5 38.5 24.5 35 27 32.5 C29.5 30 32 26 33.3 22.7 C34.5 20 34.4 17.5 34 15 C33.4 12 32.4 8.5 32.6 6 C33 2.8 35.8 1.2 38.8 1.2 Z" fill="url(#gd)" stroke="#989898" stroke-width="0.8"/>
<rect x="0" y="55" width="34" height="21" fill="url(#cd)" clip-path="url(#cpd)" mask="url(#mk)"/>
<g fill="url(#fd)" stroke="#808080" stroke-width="0.8">
<rect x="46.9" y="66.2" width="19" height="8.5" rx="4.25"/>
<rect x="45.9" y="55.2" width="24.5" height="10" rx="5"/>
<rect x="44.9" y="44.7" width="27.5" height="9.8" rx="4.9"/>
<rect x="43.9" y="32.2" width="28" height="11.5" rx="5.75"/>
</g></g></svg>
<div class="a" style="left:685.6px;top:914.3px;width:76px;height:76px;background:#fdfdfd"></div>
<svg class="a" style="left:685.6px;top:914.3px;" width="76" height="76" viewBox="0 0 76 76"><g>
<path d="M38.8 1.2 C42 1.2 44.5 2.2 46 4.2 C48 7 48.5 11 48.2 15 C48 19 46.8 22 46.7 25 C46.7 28 48.5 30.5 51.5 31.5 L54 32.5 L54 76 L51 75.8 C45 75 38 73 32 70.5 C28 68.8 25 67 22.8 67 C19 67.5 15.5 70.4 12.2 70.4 C9 70.4 6 67 4.6 62 C3.5 57 3.2 50 3.7 45.3 C4.2 40.5 6 36 9.1 35.4 C13 34.8 17.5 36 21.3 35.4 C24 33.5 27.5 30 30 27 C33 23.5 34.6 21.5 34.3 19 C34 16 32.2 12.5 32.1 9 C32 5 35 1.2 38.8 1.2 Z" fill="url(#gu)" stroke="#2cefcf" stroke-width="1.2"/>
<rect x="0" y="55" width="34" height="21" fill="url(#cu)" clip-path="url(#cp)" mask="url(#mk)"/>
<g fill="url(#fu)" stroke="#17cfae" stroke-width="0.7">
<rect x="46.5" y="66.3" width="19.4" height="9.5" rx="4.75"/>
<rect x="44.9" y="55.6" width="25.5" height="10.7" rx="5.3"/>
<rect x="44.9" y="44.2" width="27.8" height="11.4" rx="5.7"/>
<rect x="43.4" y="32.4" width="29" height="11.8" rx="5.9"/>
</g></g></svg>
<div class="a" style="left:936.6px;top:917.8px;width:76px;height:76px;background:#fdfdfd"></div>
<svg class="a" style="left:936.6px;top:917.8px;" width="76" height="76" viewBox="0 0 76 76"><g transform="translate(0 76) scale(1 -1)">
<path d="M38.8 1.2 C42 1.2 44.5 2.2 46 4.2 C47.8 7 48.6 13 48.5 18.5 C48.4 22 47.4 24.5 47.5 27 C47.7 29 50 30.5 52.2 30.8 L54 31 L54 74.6 L46.9 72.9 C42 72.5 38.5 72.2 35.9 71.7 C31 70.5 28.5 66.8 25.5 66 C21 65.3 15.5 69.5 11.9 69.3 C8.5 69 6 65.5 5.2 61.2 C4.2 56 3.6 50 4 46 C4.4 41.5 5.8 37 9.4 35.3 C13 34.8 16.5 38.2 19.9 38.5 C22.5 38.5 24.5 35 27 32.5 C29.5 30 32 26 33.3 22.7 C34.5 20 34.4 17.5 34 15 C33.4 12 32.4 8.5 32.6 6 C33 2.8 35.8 1.2 38.8 1.2 Z" fill="url(#gd)" stroke="#989898" stroke-width="0.8"/>
<rect x="0" y="55" width="34" height="21" fill="url(#cd)" clip-path="url(#cpd)" mask="url(#mk)"/>
<g fill="url(#fd)" stroke="#808080" stroke-width="0.8">
<rect x="46.9" y="66.2" width="19" height="8.5" rx="4.25"/>
<rect x="45.9" y="55.2" width="24.5" height="10" rx="5"/>
<rect x="44.9" y="44.7" width="27.5" height="9.8" rx="4.9"/>
<rect x="43.9" y="32.2" width="28" height="11.5" rx="5.75"/>
</g></g></svg>
<div class="a" style="left:1177.2px;top:914.3px;width:76px;height:76px;background:#fdfdfd"></div>
<svg class="a" style="left:1177.2px;top:914.3px;" width="76" height="76" viewBox="0 0 76 76"><g>
<path d="M38.8 1.2 C42 1.2 44.5 2.2 46 4.2 C48 7 48.5 11 48.2 15 C48 19 46.8 22 46.7 25 C46.7 28 48.5 30.5 51.5 31.5 L54 32.5 L54 76 L51 75.8 C45 75 38 73 32 70.5 C28 68.8 25 67 22.8 67 C19 67.5 15.5 70.4 12.2 70.4 C9 70.4 6 67 4.6 62 C3.5 57 3.2 50 3.7 45.3 C4.2 40.5 6 36 9.1 35.4 C13 34.8 17.5 36 21.3 35.4 C24 33.5 27.5 30 30 27 C33 23.5 34.6 21.5 34.3 19 C34 16 32.2 12.5 32.1 9 C32 5 35 1.2 38.8 1.2 Z" fill="url(#gu)" stroke="#2cefcf" stroke-width="1.2"/>
<rect x="0" y="55" width="34" height="21" fill="url(#cu)" clip-path="url(#cp)" mask="url(#mk)"/>
<g fill="url(#fu)" stroke="#17cfae" stroke-width="0.7">
<rect x="46.5" y="66.3" width="19.4" height="9.5" rx="4.75"/>
<rect x="44.9" y="55.6" width="25.5" height="10.7" rx="5.3"/>
<rect x="44.9" y="44.2" width="27.8" height="11.4" rx="5.7"/>
<rect x="43.4" y="32.4" width="29" height="11.8" rx="5.9"/>
</g></g></svg>
<div class="a" style="left:444.0px;top:1062.1px;width:76px;height:76px;background:#fdfdfd"></div>
<svg class="a" style="left:444.0px;top:1062.1px;" width="76" height="76" viewBox="0 0 76 76"><g>
<path d="M38.8 1.2 C42 1.2 44.5 2.2 46 4.2 C48 7 48.5 11 48.2 15 C48 19 46.8 22 46.7 25 C46.7 28 48.5 30.5 51.5 31.5 L54 32.5 L54 76 L51 75.8 C45 75 38 73 32 70.5 C28 68.8 25 67 22.8 67 C19 67.5 15.5 70.4 12.2 70.4 C9 70.4 6 67 4.6 62 C3.5 57 3.2 50 3.7 45.3 C4.2 40.5 6 36 9.1 35.4 C13 34.8 17.5 36 21.3 35.4 C24 33.5 27.5 30 30 27 C33 23.5 34.6 21.5 34.3 19 C34 16 32.2 12.5 32.1 9 C32 5 35 1.2 38.8 1.2 Z" fill="url(#gu)" stroke="#2cefcf" stroke-width="1.2"/>
<rect x="0" y="55" width="34" height="21" fill="url(#cu)" clip-path="url(#cp)" mask="url(#mk)"/>
<g fill="url(#fu)" stroke="#17cfae" stroke-width="0.7">
<rect x="46.5" y="66.3" width="19.4" height="9.5" rx="4.75"/>
<rect x="44.9" y="55.6" width="25.5" height="10.7" rx="5.3"/>
<rect x="44.9" y="44.2" width="27.8" height="11.4" rx="5.7"/>
<rect x="43.4" y="32.4" width="29" height="11.8" rx="5.9"/>
</g></g></svg>
<div class="a" style="left:692.0px;top:1066.9px;width:76px;height:76px;background:#fdfdfd"></div>
<svg class="a" style="left:692.0px;top:1066.9px;" width="76" height="76" viewBox="0 0 76 76"><g transform="translate(0 76) scale(1 -1)">
<path d="M38.8 1.2 C42 1.2 44.5 2.2 46 4.2 C47.8 7 48.6 13 48.5 18.5 C48.4 22 47.4 24.5 47.5 27 C47.7 29 50 30.5 52.2 30.8 L54 31 L54 74.6 L46.9 72.9 C42 72.5 38.5 72.2 35.9 71.7 C31 70.5 28.5 66.8 25.5 66 C21 65.3 15.5 69.5 11.9 69.3 C8.5 69 6 65.5 5.2 61.2 C4.2 56 3.6 50 4 46 C4.4 41.5 5.8 37 9.4 35.3 C13 34.8 16.5 38.2 19.9 38.5 C22.5 38.5 24.5 35 27 32.5 C29.5 30 32 26 33.3 22.7 C34.5 20 34.4 17.5 34 15 C33.4 12 32.4 8.5 32.6 6 C33 2.8 35.8 1.2 38.8 1.2 Z" fill="url(#gd)" stroke="#989898" stroke-width="0.8"/>
<rect x="0" y="55" width="34" height="21" fill="url(#cd)" clip-path="url(#cpd)" mask="url(#mk)"/>
<g fill="url(#fd)" stroke="#808080" stroke-width="0.8">
<rect x="46.9" y="66.2" width="19" height="8.5" rx="4.25"/>
<rect x="45.9" y="55.2" width="24.5" height="10" rx="5"/>
<rect x="44.9" y="44.7" width="27.5" height="9.8" rx="4.9"/>
<rect x="43.9" y="32.2" width="28" height="11.5" rx="5.75"/>
</g></g></svg>
<div class="a" style="left:936.6px;top:1066.9px;width:76px;height:76px;background:#fdfdfd"></div>
<svg class="a" style="left:936.6px;top:1066.9px;" width="76" height="76" viewBox="0 0 76 76"><g transform="translate(0 76) scale(1 -1)">
<path d="M38.8 1.2 C42 1.2 44.5 2.2 46 4.2 C47.8 7 48.6 13 48.5 18.5 C48.4 22 47.4 24.5 47.5 27 C47.7 29 50 30.5 52.2 30.8 L54 31 L54 74.6 L46.9 72.9 C42 72.5 38.5 72.2 35.9 71.7 C31 70.5 28.5 66.8 25.5 66 C21 65.3 15.5 69.5 11.9 69.3 C8.5 69 6 65.5 5.2 61.2 C4.2 56 3.6 50 4 46 C4.4 41.5 5.8 37 9.4 35.3 C13 34.8 16.5 38.2 19.9 38.5 C22.5 38.5 24.5 35 27 32.5 C29.5 30 32 26 33.3 22.7 C34.5 20 34.4 17.5 34 15 C33.4 12 32.4 8.5 32.6 6 C33 2.8 35.8 1.2 38.8 1.2 Z" fill="url(#gd)" stroke="#989898" stroke-width="0.8"/>
<rect x="0" y="55" width="34" height="21" fill="url(#cd)" clip-path="url(#cpd)" mask="url(#mk)"/>
<g fill="url(#fd)" stroke="#808080" stroke-width="0.8">
<rect x="46.9" y="66.2" width="19" height="8.5" rx="4.25"/>
<rect x="45.9" y="55.2" width="24.5" height="10" rx="5"/>
<rect x="44.9" y="44.7" width="27.5" height="9.8" rx="4.9"/>
<rect x="43.9" y="32.2" width="28" height="11.5" rx="5.75"/>
</g></g></svg>
<div class="a" style="left:1177.2px;top:1059.7px;width:76px;height:76px;background:#fdfdfd"></div>
<svg class="a" style="left:1177.2px;top:1059.7px;" width="76" height="76" viewBox="0 0 76 76"><g>
<path d="M38.8 1.2 C42 1.2 44.5 2.2 46 4.2 C48 7 48.5 11 48.2 15 C48 19 46.8 22 46.7 25 C46.7 28 48.5 30.5 51.5 31.5 L54 32.5 L54 76 L51 75.8 C45 75 38 73 32 70.5 C28 68.8 25 67 22.8 67 C19 67.5 15.5 70.4 12.2 70.4 C9 70.4 6 67 4.6 62 C3.5 57 3.2 50 3.7 45.3 C4.2 40.5 6 36 9.1 35.4 C13 34.8 17.5 36 21.3 35.4 C24 33.5 27.5 30 30 27 C33 23.5 34.6 21.5 34.3 19 C34 16 32.2 12.5 32.1 9 C32 5 35 1.2 38.8 1.2 Z" fill="url(#gu)" stroke="#2cefcf" stroke-width="1.2"/>
<rect x="0" y="55" width="34" height="21" fill="url(#cu)" clip-path="url(#cp)" mask="url(#mk)"/>
<g fill="url(#fu)" stroke="#17cfae" stroke-width="0.7">
<rect x="46.5" y="66.3" width="19.4" height="9.5" rx="4.75"/>
<rect x="44.9" y="55.6" width="25.5" height="10.7" rx="5.3"/>
<rect x="44.9" y="44.2" width="27.8" height="11.4" rx="5.7"/>
<rect x="43.4" y="32.4" width="29" height="11.8" rx="5.9"/>
</g></g></svg>
<div class="a" style="left:444.0px;top:1210.2px;width:76px;height:76px;background:#fdfdfd"></div>
<svg class="a" style="left:444.0px;top:1210.2px;" width="76" height="76" viewBox="0 0 76 76"><g>
<path d="M38.8 1.2 C42 1.2 44.5 2.2 46 4.2 C48 7 48.5 11 48.2 15 C48 19 46.8 22 46.7 25 C46.7 28 48.5 30.5 51.5 31.5 L54 32.5 L54 76 L51 75.8 C45 75 38 73 32 70.5 C28 68.8 25 67 22.8 67 C19 67.5 15.5 70.4 12.2 70.4 C9 70.4 6 67 4.6 62 C3.5 57 3.2 50 3.7 45.3 C4.2 40.5 6 36 9.1 35.4 C13 34.8 17.5 36 21.3 35.4 C24 33.5 27.5 30 30 27 C33 23.5 34.6 21.5 34.3 19 C34 16 32.2 12.5 32.1 9 C32 5 35 1.2 38.8 1.2 Z" fill="url(#gu)" stroke="#2cefcf" stroke-width="1.2"/>
<rect x="0" y="55" width="34" height="21" fill="url(#cu)" clip-path="url(#cp)" mask="url(#mk)"/>
<g fill="url(#fu)" stroke="#17cfae" stroke-width="0.7">
<rect x="46.5" y="66.3" width="19.4" height="9.5" rx="4.75"/>
<rect x="44.9" y="55.6" width="25.5" height="10.7" rx="5.3"/>
<rect x="44.9" y="44.2" width="27.8" height="11.4" rx="5.7"/>
<rect x="43.4" y="32.4" width="29" height="11.8" rx="5.9"/>
</g></g></svg>
<div class="a" style="left:685.6px;top:1210.2px;width:76px;height:76px;background:#fdfdfd"></div>
<svg class="a" style="left:685.6px;top:1210.2px;" width="76" height="76" viewBox="0 0 76 76"><g>
<path d="M38.8 1.2 C42 1.2 44.5 2.2 46 4.2 C48 7 48.5 11 48.2 15 C48 19 46.8 22 46.7 25 C46.7 28 48.5 30.5 51.5 31.5 L54 32.5 L54 76 L51 75.8 C45 75 38 73 32 70.5 C28 68.8 25 67 22.8 67 C19 67.5 15.5 70.4 12.2 70.4 C9 70.4 6 67 4.6 62 C3.5 57 3.2 50 3.7 45.3 C4.2 40.5 6 36 9.1 35.4 C13 34.8 17.5 36 21.3 35.4 C24 33.5 27.5 30 30 27 C33 23.5 34.6 21.5 34.3 19 C34 16 32.2 12.5 32.1 9 C32 5 35 1.2 38.8 1.2 Z" fill="url(#gu)" stroke="#2cefcf" stroke-width="1.2"/>
<rect x="0" y="55" width="34" height="21" fill="url(#cu)" clip-path="url(#cp)" mask="url(#mk)"/>
<g fill="url(#fu)" stroke="#17cfae" stroke-width="0.7">
<rect x="46.5" y="66.3" width="19.4" height="9.5" rx="4.75"/>
<rect x="44.9" y="55.6" width="25.5" height="10.7" rx="5.3"/>
<rect x="44.9" y="44.2" width="27.8" height="11.4" rx="5.7"/>
<rect x="43.4" y="32.4" width="29" height="11.8" rx="5.9"/>
</g></g></svg>
<div class="a" style="left:936.6px;top:1210.9px;width:76px;height:76px;background:#fdfdfd"></div>
<svg class="a" style="left:936.6px;top:1210.9px;" width="76" height="76" viewBox="0 0 76 76"><g transform="translate(0 76) scale(1 -1)">
<path d="M38.8 1.2 C42 1.2 44.5 2.2 46 4.2 C47.8 7 48.6 13 48.5 18.5 C48.4 22 47.4 24.5 47.5 27 C47.7 29 50 30.5 52.2 30.8 L54 31 L54 74.6 L46.9 72.9 C42 72.5 38.5 72.2 35.9 71.7 C31 70.5 28.5 66.8 25.5 66 C21 65.3 15.5 69.5 11.9 69.3 C8.5 69 6 65.5 5.2 61.2 C4.2 56 3.6 50 4 46 C4.4 41.5 5.8 37 9.4 35.3 C13 34.8 16.5 38.2 19.9 38.5 C22.5 38.5 24.5 35 27 32.5 C29.5 30 32 26 33.3 22.7 C34.5 20 34.4 17.5 34 15 C33.4 12 32.4 8.5 32.6 6 C33 2.8 35.8 1.2 38.8 1.2 Z" fill="url(#gd)" stroke="#989898" stroke-width="0.8"/>
<rect x="0" y="55" width="34" height="21" fill="url(#cd)" clip-path="url(#cpd)" mask="url(#mk)"/>
<g fill="url(#fd)" stroke="#808080" stroke-width="0.8">
<rect x="46.9" y="66.2" width="19" height="8.5" rx="4.25"/>
<rect x="45.9" y="55.2" width="24.5" height="10" rx="5"/>
<rect x="44.9" y="44.7" width="27.5" height="9.8" rx="4.9"/>
<rect x="43.9" y="32.2" width="28" height="11.5" rx="5.75"/>
</g></g></svg>
<div class="a" style="left:1179.1px;top:1210.2px;width:76px;height:76px;background:#fdfdfd"></div>
<svg class="a" style="left:1179.1px;top:1210.2px;" width="76" height="76" viewBox="0 0 76 76"><g transform="translate(0 76) scale(1 -1)">
<path d="M38.8 1.2 C42 1.2 44.5 2.2 46 4.2 C47.8 7 48.6 13 48.5 18.5 C48.4 22 47.4 24.5 47.5 27 C47.7 29 50 30.5 52.2 30.8 L54 31 L54 74.6 L46.9 72.9 C42 72.5 38.5 72.2 35.9 71.7 C31 70.5 28.5 66.8 25.5 66 C21 65.3 15.5 69.5 11.9 69.3 C8.5 69 6 65.5 5.2 61.2 C4.2 56 3.6 50 4 46 C4.4 41.5 5.8 37 9.4 35.3 C13 34.8 16.5 38.2 19.9 38.5 C22.5 38.5 24.5 35 27 32.5 C29.5 30 32 26 33.3 22.7 C34.5 20 34.4 17.5 34 15 C33.4 12 32.4 8.5 32.6 6 C33 2.8 35.8 1.2 38.8 1.2 Z" fill="url(#gd)" stroke="#989898" stroke-width="0.8"/>
<rect x="0" y="55" width="34" height="21" fill="url(#cd)" clip-path="url(#cpd)" mask="url(#mk)"/>
<g fill="url(#fd)" stroke="#808080" stroke-width="0.8">
<rect x="46.9" y="66.2" width="19" height="8.5" rx="4.25"/>
<rect x="45.9" y="55.2" width="24.5" height="10" rx="5"/>
<rect x="44.9" y="44.7" width="27.5" height="9.8" rx="4.9"/>
<rect x="43.9" y="32.2" width="28" height="11.5" rx="5.75"/>
</g></g></svg>
</body></html>
